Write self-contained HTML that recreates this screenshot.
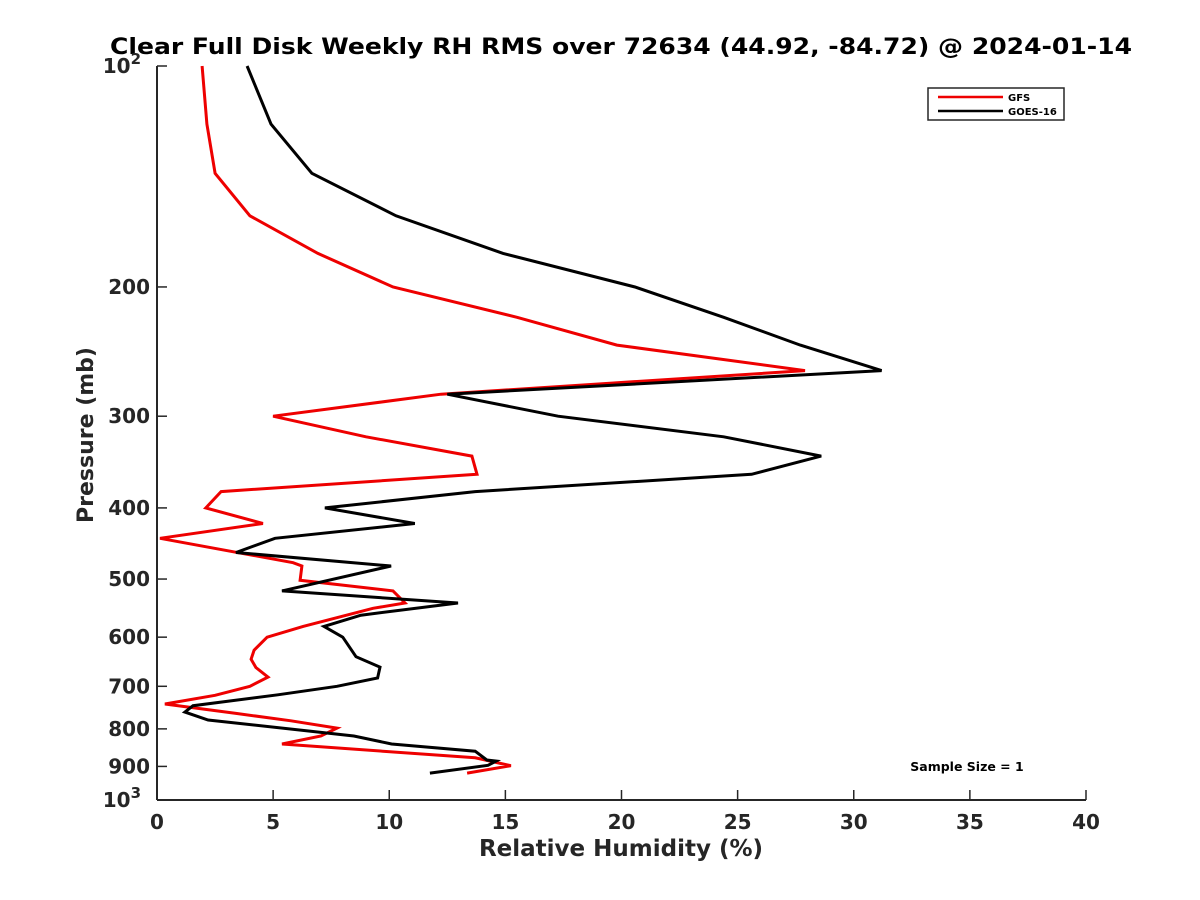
<!DOCTYPE html>
<html><head><meta charset="utf-8"><style>
html,body{margin:0;padding:0;background:#fff;}
svg{display:block;font-family:"DejaVu Sans","Liberation Sans",sans-serif;font-weight:bold;}
</style></head><body>
<svg id="chart" width="1200" height="900" viewBox="0 0 1200 900">
<rect width="1200" height="900" fill="#fff"/>
<text x="621" y="54" text-anchor="middle" font-size="22" textLength="1022" lengthAdjust="spacingAndGlyphs" fill="#000">Clear Full Disk Weekly RH RMS over 72634 (44.92, -84.72) @ 2024-01-14</text>
<g id="axes"></g>
<g id="series"></g>
<g>
<rect x="928" y="88" width="136" height="32" fill="#fff" stroke="#262626" stroke-width="1.5"/>
<line x1="938" y1="97" x2="1003" y2="97" stroke="#ee0000" stroke-width="2.5"/>
<text x="1008" y="101" font-size="10" fill="#000">GFS</text>
<line x1="938" y1="111" x2="1003" y2="111" stroke="#000" stroke-width="2.5"/>
<text x="1008" y="115" font-size="10" fill="#000">GOES-16</text>
</g>
<text x="967" y="771" text-anchor="middle" font-size="12.5" fill="#000">Sample Size = 1</text>
<text x="621" y="856" text-anchor="middle" font-size="23" fill="#262626">Relative Humidity (%)</text>
<text x="0" y="0" transform="translate(93,435) rotate(-90)" text-anchor="middle" font-size="22" fill="#262626">Pressure (mb)</text>
</svg>
<script>
const xTicks = [0,5,10,15,20,25,30,35,40];
const yTicks = [100,200,300,400,500,600,700,800,900,1000];
const gfsRH = [1.94,2.15,2.5,4.0,6.93,10.16,15.5,19.8,27.9,12.23,5.0,9.0,13.56,13.78,2.76,2.1,4.56,0.13,5.86,6.24,6.16,10.16,10.68,9.3,6.29,4.74,4.18,4.05,4.26,4.78,4.0,2.5,0.34,3.4,5.77,7.75,7.06,5.38,13.7,15.24,13.35];
const gfsP = [100,120,140,160,180,200,220,240,260,280,300,320,340,360,380,400,420,440,475,480,502,519,539,548,580,600,625,643,660,680,700,720,740,762,780,798,818,839,876,898,919];
const goesRH = [3.88,4.91,6.67,10.29,14.9,20.58,24.4,27.7,31.2,12.5,17.27,24.4,28.6,25.6,13.7,7.23,11.1,5.08,3.4,10.08,5.38,12.96,8.78,7.19,8.0,8.57,9.6,9.5,7.75,5.2,1.55,1.2,2.2,8.48,10.1,13.7,14.2,14.6,14.25,11.75];
const goesP = [100,120,140,160,180,200,220,240,260,280,300,320,340,360,380,400,420,440,460,480,519,539,560,580,600,638,659,682,700,719,744,759,778,818,839,858,882,885,897,919];

const NS='http://www.w3.org/2000/svg';
const X0=157,X1=1086,Y0=66,Y1=800;
function xs(v){return X0+(v-0)/(40-0)*(X1-X0);}
function ys(p){return Y0+(Math.log10(p)-2)*(Y1-Y0);}
function mk(tag,attrs,parent){const e=document.createElementNS(NS,tag);for(const k in attrs)e.setAttribute(k,attrs[k]);parent.appendChild(e);return e;}
const axes=document.getElementById('axes');
const ser=document.getElementById('series');
const ax=mk('line',{x1:X0,y1:Y1,x2:X1,y2:Y1,stroke:'#262626','stroke-width':2},axes);


const ay=mk('line',{x1:X0,y1:Y0,x2:X0,y2:Y1,stroke:'#262626','stroke-width':2},axes);


xTicks.forEach(v=>{
  const x=xs(v);
  const t=mk('line',{x1:x,y1:Y1,x2:x,y2:Y1-10,stroke:'#262626','stroke-width':1.5},axes);
  
  
  const l=mk('text',{x:x,y:Y1+29,'text-anchor':'middle','font-size':20,fill:'#262626'},axes);
  l.textContent=v;
  
  
});
yTicks.forEach(p=>{
  const y=ys(p);
  const t=mk('line',{x1:X0,y1:y,x2:X0+10,y2:y,stroke:'#262626','stroke-width':1.5},axes);
  
  
  const l=mk('text',{x:X0-7,y:y+7,'text-anchor':'end','font-size':20,fill:'#262626'},axes);
  if(p===100||p===1000){
    l.setAttribute('x',X0-16);
    l.textContent='10';
    const s=mk('tspan',{dy:-9,'font-size':15},l);
    s.textContent=p===100?'2':'3';
  } else l.textContent=p;
  
  
});
function line(rh,p,color,name){
  const pts=rh.map((v,i)=>xs(v).toFixed(1)+','+ys(p[i]).toFixed(1)).join(' ');
  const e=mk('polyline',{points:pts,fill:'none',stroke:color,'stroke-width':3,'stroke-linejoin':'miter'},ser);
  
  
}
line(gfsRH,gfsP,'#ee0000','gfs-line');
line(goesRH,goesP,'#000000','goes16-line');
</script>
</body></html>
